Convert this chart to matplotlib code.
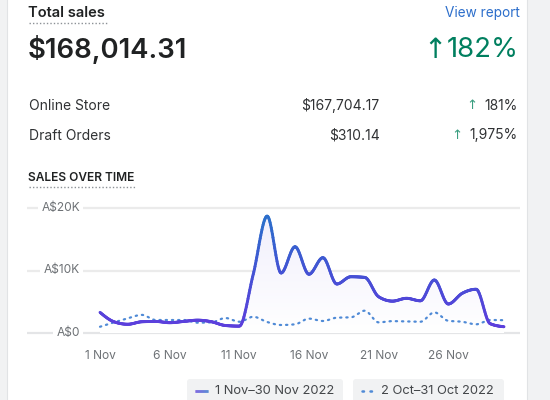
import numpy as np
import matplotlib
matplotlib.use("Agg")
import matplotlib.pyplot as plt
import matplotlib.transforms as mtrans
from matplotlib.collections import LineCollection
from matplotlib.colors import LinearSegmentedColormap
from matplotlib.patches import FancyBboxPatch, Rectangle

plt.rcParams['font.family'] = ['Inter', 'DejaVu Sans']

# --- data ------------------------------------------------------------------
days = np.arange(1, 31)
current = [3300, 1800, 1400, 1800, 1850, 1650, 1850, 2050, 1800, 1200,
           1100, 9400, 18700, 9600, 13800, 9400, 12050, 7840, 9000, 8900,
           5800, 5100, 5550, 5150, 8480, 4640, 6350, 7000, 1500, 1000]
previous = [1000, 1700, 2350, 2900, 2080, 2080, 2080, 1650, 1700, 2400,
            1800, 2600, 1760, 1280, 1390, 2300, 1920, 2450, 2500, 3570,
            1700, 1900, 1850, 1800, 3300, 1950, 1800, 1390, 2080, 2050]
xtick_days = [1, 6, 11, 16, 21, 26]
xtick_labels = ['1 Nov', '6 Nov', '11 Nov', '16 Nov', '21 Nov', '26 Nov']
ytick_vals = [0, 10000, 20000]
ytick_labels = ['A$0', 'A$10K', 'A$20K']

total = '$168,014.31'
total_change = '182%'
rows = ['Online Store', 'Draft Orders']
row_values = ['$167,704.17', '$310.14']
row_changes = ['181%', '1,975%']
legend_labels = ['1 Nov\u201330 Nov 2022', '2 Oct\u201331 Oct 2022']

DARK = '#202223'
TEXT = '#303234'
GREY = '#6d7175'
GREEN = '#007f5f'
BLUE = '#2c6ecb'
PURPLE = '#5b3fdc'
DOT = '#4f8ad6'


def monotone(x, y, n=24):
    # monotone cubic (like d3 curveMonotoneX)
    x = np.asarray(x, float)
    y = np.asarray(y, float)
    h = np.diff(x)
    s = np.diff(y) / h
    m = np.zeros_like(y)
    p = (s[:-1] * h[1:] + s[1:] * h[:-1]) / (h[:-1] + h[1:])
    m[1:-1] = (np.sign(s[:-1]) + np.sign(s[1:])) * np.minimum(
        np.minimum(np.abs(s[:-1]), np.abs(s[1:])), 0.5 * np.abs(p))
    m[0] = (3 * s[0] - m[1]) / 2
    m[-1] = (3 * s[-1] - m[-2]) / 2
    xs, ys = [], []
    t = np.linspace(0, 1, n, endpoint=False)
    for i in range(len(x) - 1):
        h00 = 2 * t**3 - 3 * t**2 + 1
        h10 = t**3 - 2 * t**2 + t
        h01 = -2 * t**3 + 3 * t**2
        h11 = t**3 - t**2
        xs.append(x[i] + t * h[i])
        ys.append(h00 * y[i] + h10 * h[i] * m[i] + h01 * y[i + 1] + h11 * h[i] * m[i + 1])
    xs.append([x[-1]])
    ys.append([y[-1]])
    return np.concatenate(xs), np.concatenate(ys)


fig = plt.figure(figsize=(5.5, 4), dpi=100)
renderer = fig.canvas.get_renderer()

# page / card in pixel coordinates
bg = fig.add_axes([0, 0, 1, 1])
bg.set_xlim(0, 550)
bg.set_ylim(400, 0)
bg.axis('off')
bg.add_patch(Rectangle((0, 0), 550, 400, color='#f1f2f3', zorder=0))
bg.add_patch(Rectangle((7, -2), 520, 404, facecolor='white', edgecolor='#e1e3e5', lw=0.8, zorder=1))


def up_arrow(right_px, y, size, color):
    # thin up arrow ending at right_px (pixel x)
    bg.text(right_px, y, '\u2191', fontsize=size, color=color, va='center', ha='right',
            family=['DejaVu Sans'], zorder=3)


bg.text(28, 12.8, 'Total sales', fontsize=10.6, fontweight='semibold', color=DARK, va='center', zorder=3)
bg.plot([28.5, 108], [22.5, 22.5], color='#8c9196', lw=1, ls=(0, (1, 1.5)), zorder=3)
bg.text(519.5, 13.5, 'View report', fontsize=9.8, color=BLUE, va='center', ha='right', zorder=3)
bg.text(27.5, 49.5, total, fontsize=19.8, fontweight='semibold', color=DARK, va='center', zorder=3)
t = bg.text(519, 50, total_change, fontsize=19.8, color=GREEN, va='center', ha='right', zorder=3)
x0 = t.get_window_extent(renderer).x0
up_arrow(x0 - 0.5, 49.5, 20, GREEN)

for i, (r, v, c) in enumerate(zip(rows, row_values, row_changes)):
    yy = 105.5 + 30 * i
    bg.text(29, yy, r, fontsize=10, color=TEXT, va='center', zorder=3)
    bg.text(379.5, yy, v, fontsize=10, color=TEXT, va='center', ha='right', zorder=3)
    t = bg.text(518, yy, c, fontsize=10, color=TEXT, va='center', ha='right', zorder=3)
    x0 = t.get_window_extent(renderer).x0
    up_arrow(x0 - 7, yy, 9.5, '#3a9e80')

bg.text(28, 178, 'SALES OVER TIME', fontsize=8.6, fontweight='semibold', color=DARK, va='center', zorder=3)
bg.plot([28.5, 136], [186.5, 186.5], color='#8c9196', lw=1, ls=(0, (1, 1.5)), zorder=3)

# legend chips
cmap = LinearSegmentedColormap.from_list('pb', [PURPLE, '#4452d4', BLUE])
for a, b in [(187, 343), (353, 504)]:
    bg.add_patch(FancyBboxPatch((a, 379), b - a, 30, boxstyle='round,pad=0,rounding_size=3',
                                facecolor='#f1f2f3', edgecolor='none', zorder=2))
lx = np.linspace(195, 208, 20)
seg = np.stack([np.column_stack([lx[:-1], np.full(19, 390.5)]),
                np.column_stack([lx[1:], np.full(19, 390.5)])], axis=1)
lc_leg = LineCollection(seg, cmap=cmap, lw=2, zorder=3)
lc_leg.set_array(np.linspace(0, 1, 19))
bg.add_collection(lc_leg)
bg.plot([362, 374], [390.5, 390.5], color=DOT, lw=1.8, ls=(0, (0.6, 2.6)), dash_capstyle='round', zorder=3)
bg.text(215, 390.5, legend_labels[0], fontsize=9.3, color='#44474a', va='center', zorder=3)
bg.text(381, 390.5, legend_labels[1], fontsize=9.3, color='#44474a', va='center', zorder=3)

# --- chart -------------------------------------------------------------------
px_day = 404 / 29.0
ax = fig.add_axes([27 / 550, 55 / 400, 493 / 550, 145 / 400])
ax.patch.set_alpha(0)
ax.set_xlim(1 - 73 / px_day, 30 + 16 / px_day)
ax.set_ylim(-12 * 160, 20000 + 8 * 160)
for s in ax.spines.values():
    s.set_visible(False)
ax.set_yticks([])
ax.set_xticks(xtick_days)
ax.set_xticklabels(xtick_labels, fontsize=8.6, color=GREY)
ax.tick_params(axis='x', length=0, pad=3.5)

trans = mtrans.blended_transform_factory(ax.transAxes, ax.transData)
for v, lab in zip(ytick_vals, ytick_labels):
    ax.axhline(v, color='#ebebeb' if v else '#e4e5e7', lw=1.6, zorder=1)
    ax.text(53 / 493, v, lab, transform=trans, ha='right', va='center', fontsize=8.6, color=GREY,
            bbox=dict(facecolor='white', edgecolor='none', pad=2.5), zorder=2)

cx, cy = monotone(days, current)
px, py = monotone(days, previous)

# soft gradient fill under the current period
fill = ax.fill_between(cx, cy, 0, color='none', zorder=2)
grad = np.linspace(0, 1, 100).reshape(-1, 1)
fcmap = LinearSegmentedColormap.from_list('f', ['#ffffff', '#f1effc'])
im = ax.imshow(grad, cmap=fcmap, aspect='auto', origin='lower',
               extent=[1, 30, 0, 19000], zorder=2)
im.set_clip_path(fill.get_paths()[0], transform=ax.transData)

ax.plot(px, py, color=DOT, lw=1.6, ls=(0, (0.6, 2.2)), dash_capstyle='round', zorder=3)

pts = np.column_stack([cx, cy]).reshape(-1, 1, 2)
segs = np.concatenate([pts[:-1], pts[1:]], axis=1)
lc = LineCollection(segs, cmap=cmap, norm=plt.Normalize(1500, 18000), lw=2.1,
                    capstyle='round', joinstyle='round', zorder=4)
lc.set_array((cy[:-1] + cy[1:]) / 2)
ax.add_collection(lc)

fig.savefig('out.png', dpi=100)
